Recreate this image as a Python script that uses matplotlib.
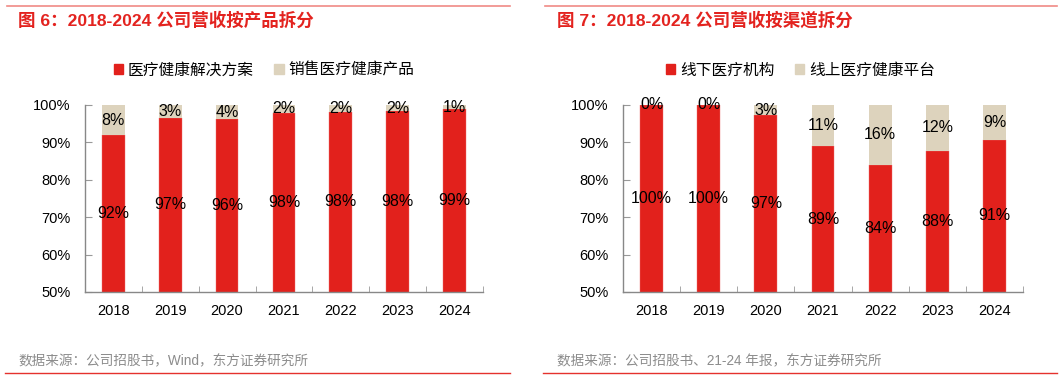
import numpy as np
import matplotlib.pyplot as plt
from matplotlib.lines import Line2D
from matplotlib.patches import Patch

plt.rcParams['font.family'] = ['Liberation Sans', 'Noto Sans CJK SC', 'DejaVu Sans']

years = ['2018', '2019', '2020', '2021', '2022', '2023', '2024']

# 图6: 按产品拆分
solution = [91.9, 96.6, 96.2, 97.9, 98.2, 98.3, 98.8]
products = [8.1, 3.4, 3.8, 2.1, 1.8, 1.7, 1.2]
solution_lbl = [92, 97, 96, 98, 98, 98, 99]
products_lbl = [8, 3, 4, 2, 2, 2, 1]

# 图7: 按渠道拆分
offline = [100.0, 100.0, 97.2, 88.9, 84.0, 87.8, 90.7]
online = [0.0, 0.0, 2.8, 11.1, 16.0, 12.2, 9.3]
offline_lbl = [100, 100, 97, 89, 84, 88, 91]
online_lbl = [0, 0, 3, 11, 16, 12, 9]

RED = '#E2211C'
BEIGE = '#DDD3BD'
TITLE_RED = '#E3231F'

fig = plt.figure(figsize=(10.61, 3.79), dpi=100)


def draw(ax, bottom_vals, top_vals, bottom_lbl, top_lbl, names, leg_x):
    x = np.arange(len(years))
    ax.bar(x, bottom_vals, width=0.4, color=RED, edgecolor='#F07070', linewidth=0.3)
    ax.bar(x, top_vals, width=0.4, bottom=bottom_vals, color=BEIGE, linewidth=0)
    for i in range(len(years)):
        ax.text(x[i], (50 + bottom_vals[i]) / 2, f'{bottom_lbl[i]}%', ha='center', va='center',
                fontsize=11.5, color='black')
        ax.text(x[i], bottom_vals[i] + top_vals[i] / 2, f'{top_lbl[i]}%', ha='center', va='center',
                fontsize=11.5, color='black')
    ax.set_ylim(50, 100)
    ax.set_xlim(-0.5, len(years) - 0.5)
    ax.set_yticks(np.arange(50, 101, 10))
    ax.set_yticklabels([f'{v}%' for v in range(50, 101, 10)])
    ax.set_xticks(x)
    ax.set_xticklabels(years)
    ax.set_xticks(np.arange(-0.5, len(years)), minor=True)
    ax.tick_params(axis='x', which='major', length=0, pad=9, labelsize=10.5)
    ax.tick_params(axis='x', which='minor', direction='in', length=4, color='#999999')
    ax.tick_params(axis='y', direction='in', length=5, color='#999999', labelsize=10.5, pad=10.5)
    for s in ['top', 'right']:
        ax.spines[s].set_visible(False)
    for s in ['left', 'bottom']:
        ax.spines[s].set_color('#888888')
        ax.spines[s].set_linewidth(1.0)
    handles = [Patch(color=RED), Patch(color=BEIGE)]
    ax.legend(handles, names, loc='lower center', bbox_to_anchor=(leg_x, 1.07), ncol=2, frameon=False,
              fontsize=11.3, handlelength=0.6, handleheight=0.6, handletextpad=0.3, columnspacing=1.3)


ax1 = fig.add_axes([0.0801, 0.2296, 0.3751, 0.4934])
draw(ax1, solution, products, solution_lbl, products_lbl, ['医疗健康解决方案', '销售医疗健康产品'], 0.45)
ax2 = fig.add_axes([0.5872, 0.2296, 0.3770, 0.4934])
draw(ax2, offline, online, offline_lbl, online_lbl, ['线下医疗机构', '线上医疗健康平台'], 0.443)

# titles and frame lines
fig.text(18 / 1061, 1 - 20 / 379, '图 6：2018-2024 公司营收按产品拆分', color=TITLE_RED, fontsize=12.6,
         fontweight='bold', va='center', ha='left')
fig.text(557 / 1061, 1 - 20 / 379, '图 7：2018-2024 公司营收按渠道拆分', color=TITLE_RED, fontsize=12.6,
         fontweight='bold', va='center', ha='left')
fig.add_artist(Line2D([7 / 1061, 510 / 1061], [1 - 5.5 / 379] * 2, color='#F08A85', lw=1.2))
fig.add_artist(Line2D([545 / 1061, 1057 / 1061], [1 - 5.5 / 379] * 2, color='#F08A85', lw=1.2))
fig.add_artist(Line2D([5 / 1061, 510 / 1061], [1 - 372.5 / 379] * 2, color='#E5322D', lw=1.0))
fig.add_artist(Line2D([543 / 1061, 1057 / 1061], [1 - 372.5 / 379] * 2, color='#E5322D', lw=1.0))

fig.text(18 / 1061, 1 - 361 / 379, '数据来源：公司招股书，Wind，东方证券研究所', color='#8C8C8C', fontsize=9.8,
         va='center', ha='left')
fig.text(557 / 1061, 1 - 361 / 379, '数据来源：公司招股书、21-24 年报，东方证券研究所', color='#8C8C8C', fontsize=9.8,
         va='center', ha='left')

fig.savefig('out.png', dpi=100)
